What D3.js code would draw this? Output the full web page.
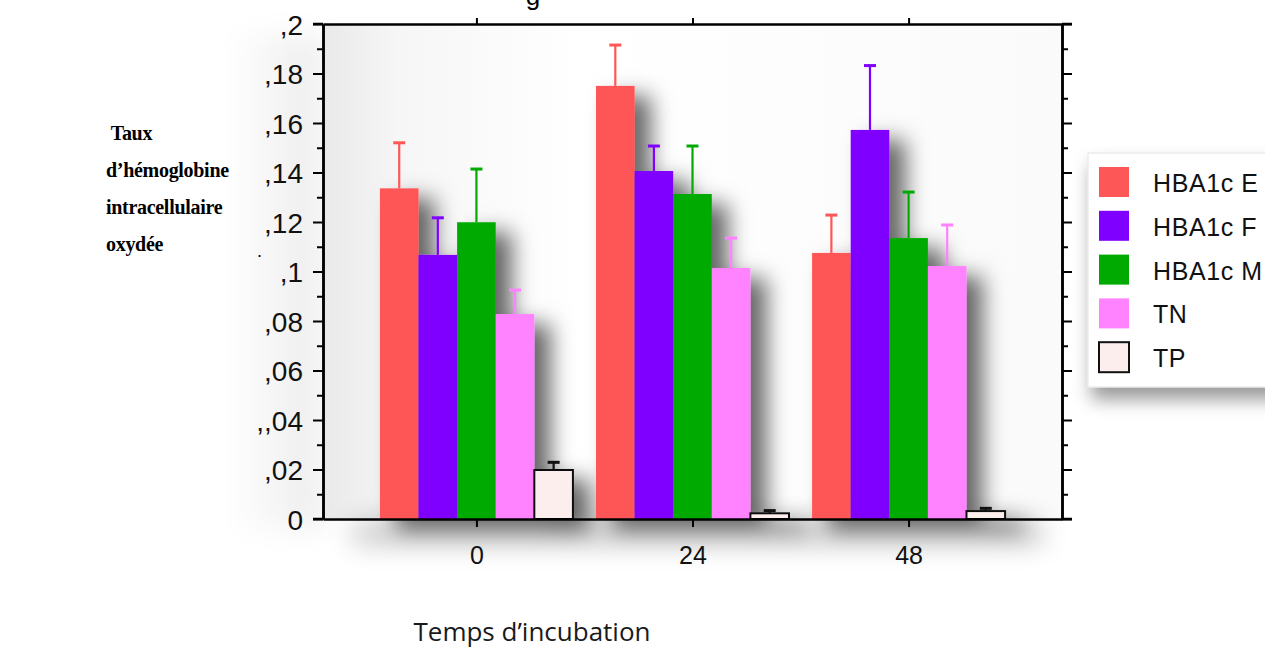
<html>

<head>
    <meta charset="utf-8">
    <title>Hémoglobine oxydée</title>
    <style>
        body {
            margin: 0;
            background: #fff;
        }
    </style>
</head>

<body>
    <script src="https://d3js.org/d3.v7.min.js"></script>
    <script>
        var width = 1265,
            height = 649;

        var times = ["0", "24", "48"];
        var series = ["HBA1c E", "HBA1c F", "HBA1c M", "TN", "TP"];
        var colors = ["#fe5757", "#8000ff", "#00aa00", "#ff82ff", "#fdeeee"];
        var hbaE = [0.1336, 0.175, 0.1075];
        var hbaE_err = [0.0184, 0.0165, 0.0153];
        var hbaF = [0.1067, 0.1406, 0.1572];
        var hbaF_err = [0.015, 0.0101, 0.026];
        var hbaM = [0.1199, 0.1313, 0.1135];
        var hbaM_err = [0.0215, 0.0194, 0.0186];
        var tn = [0.0828, 0.1014, 0.1022];
        var tn_err = [0.0097, 0.0121, 0.0166];
        var tp = [0.0198, 0.0023, 0.0032];
        var tp_err = [0.0031, 0.0011, 0.0011];
        var yTicks = [0, 0.02, 0.04, 0.06, 0.08, 0.1, 0.12, 0.14, 0.16, 0.18, 0.2];
        var yTickLabels = ["0", ",02", ",,04", ",06", ",08", ",1", ",12", ",14", ",16", ",18", ",2"];
        var yMinor = [0.01, 0.03, 0.05, 0.07, 0.09, 0.11, 0.13, 0.15, 0.17, 0.19];

        var values = [hbaE, hbaF, hbaM, tn, tp];
        var errors = [hbaE_err, hbaF_err, hbaM_err, tn_err, tp_err];
        var bars = [];
        series.forEach((s, i) => {
            times.forEach((t, j) => {
                bars.push({ serie: s, time: t, value: values[i][j], err: errors[i][j], color: colors[i] });
            });
        });

        var pLeft = 323, pRight = 1062, pTop = 24, pBottom = 519;

        var x = d3.scalePoint().domain(times).range([pLeft, pRight]).padding(0.71);
        var xs = d3.scaleBand().domain(series).range([-96.5, 96.5]);
        var y = d3.scaleLinear().domain([0, 0.2]).range([pBottom, pTop]);

        var svg = d3.select("body").append("svg")
            .attr("width", width)
            .attr("height", height);

        var defs = svg.append("defs");
        var grad = defs.append("linearGradient").attr("id", "bg");
        grad.append("stop").attr("offset", "0%").attr("stop-color", "#e9e9e9");
        grad.append("stop").attr("offset", "10%").attr("stop-color", "#f6f6f6");
        grad.append("stop").attr("offset", "35%").attr("stop-color", "#ffffff");
        grad.append("stop").attr("offset", "100%").attr("stop-color", "#fafafa");

        var outer = defs.append("linearGradient").attr("id", "outer");
        outer.append("stop").attr("offset", "0%").attr("stop-color", "#ffffff");
        outer.append("stop").attr("offset", "100%").attr("stop-color", "#ececec");

        defs.append("filter").attr("id", "shadow")
            .attr("x", "-20%").attr("y", "-20%").attr("width", "170%").attr("height", "170%")
            .append("feDropShadow")
            .attr("dx", 16).attr("dy", 10)
            .attr("stdDeviation", 11)
            .attr("flood-color", "#000")
            .attr("flood-opacity", 0.6);

        defs.append("filter").attr("id", "soft")
            .attr("x", "-20%").attr("y", "-50%").attr("width", "140%").attr("height", "400%")
            .append("feDropShadow")
            .attr("dx", 4).attr("dy", 12)
            .attr("stdDeviation", 9)
            .attr("flood-color", "#000")
            .attr("flood-opacity", 0.4);

        defs.append("filter").attr("id", "blur")
            .attr("filterUnits", "userSpaceOnUse")
            .attr("x", 0).attr("y", 0).attr("width", width).attr("height", height)
            .append("feGaussianBlur")
            .attr("stdDeviation", 14);

        // halo gris à gauche des graduations
        svg.append("rect")
            .attr("x", 225).attr("y", pTop + 10)
            .attr("width", pLeft - 225).attr("height", pBottom - pTop)
            .attr("fill", "url(#outer)")
            .attr("filter", "url(#blur)");

        // fond de la zone de tracé
        svg.append("rect")
            .attr("x", pLeft).attr("y", pTop)
            .attr("width", pRight - pLeft).attr("height", pBottom - pTop)
            .attr("fill", "url(#bg)");

        // ombre sous l'axe x
        svg.append("rect")
            .attr("x", pLeft + 30).attr("y", pBottom + 4)
            .attr("width", pRight - pLeft - 50).attr("height", 20)
            .attr("fill", "#000")
            .attr("opacity", 0.25)
            .attr("filter", "url(#blur)");

        var barG = svg.append("g").attr("filter", "url(#shadow)");

        barG.selectAll("rect")
            .data(bars)
            .join("rect")
            .attr("x", d => x(d.time) + xs(d.serie))
            .attr("y", d => y(d.value))
            .attr("width", xs.bandwidth())
            .attr("height", d => y(0) - y(d.value))
            .attr("fill", d => d.color)
            .attr("stroke", d => d.serie == "TP" ? "#111" : "none")
            .attr("stroke-width", 2);

        var errG = svg.append("g").attr("stroke-width", 2.2);
        var eb = errG.selectAll("g")
            .data(bars)
            .join("g")
            .attr("stroke", d => d.serie == "TP" ? "#111" : d.color);
        eb.append("line")
            .attr("x1", d => x(d.time) + xs(d.serie) + xs.bandwidth() / 2)
            .attr("x2", d => x(d.time) + xs(d.serie) + xs.bandwidth() / 2)
            .attr("y1", d => y(d.value))
            .attr("y2", d => y(d.value + d.err));
        eb.append("line")
            .attr("x1", d => x(d.time) + xs(d.serie) + xs.bandwidth() / 2 - 6)
            .attr("x2", d => x(d.time) + xs(d.serie) + xs.bandwidth() / 2 + 6)
            .attr("y1", d => y(d.value + d.err))
            .attr("y2", d => y(d.value + d.err))
            .attr("stroke-width", 3);

        // axes
        svg.append("g")
            .attr("class", "yaxis")
            .attr("transform", `translate(${pLeft},0)`)
            .call(d3.axisLeft(y).tickValues(yTicks).tickSize(10).tickPadding(10)
                .tickFormat((d, i) => yTickLabels[i]).tickSizeOuter(0));
        svg.append("g")
            .attr("transform", `translate(${pLeft},0)`)
            .call(d3.axisLeft(y).tickValues(yMinor).tickSize(6).tickFormat("").tickSizeOuter(0));

        svg.append("g")
            .attr("transform", `translate(${pRight},0)`)
            .call(d3.axisRight(y).tickValues(yTicks).tickSize(10).tickFormat("").tickSizeOuter(0));
        svg.append("g")
            .attr("transform", `translate(${pRight},0)`)
            .call(d3.axisRight(y).tickValues(yMinor).tickSize(6).tickFormat("").tickSizeOuter(0));

        svg.append("g")
            .attr("class", "xaxis")
            .attr("transform", `translate(0,${pBottom})`)
            .call(d3.axisBottom(x).tickSize(8).tickPadding(19).tickSizeOuter(0));

        svg.append("g")
            .attr("transform", `translate(0,${pTop})`)
            .call(d3.axisTop(x).tickSize(6).tickFormat("").tickSizeOuter(0));

        svg.selectAll("path.domain").attr("stroke", "#000").attr("stroke-width", 2.5);
        svg.selectAll(".tick line").attr("stroke", "#000").attr("stroke-width", 2);

        // prolongement des axes comme dans l'original
        svg.append("g").attr("stroke", "#000").attr("stroke-width", 2.5)
            .selectAll("line")
            .data([[pLeft - 10, pBottom, pLeft, pBottom], [pRight, pBottom, pRight + 10, pBottom],
                   [pLeft - 10, pTop, pLeft, pTop], [pRight, pTop, pRight + 10, pTop]])
            .join("line")
            .attr("x1", d => d[0]).attr("y1", d => d[1])
            .attr("x2", d => d[2]).attr("y2", d => d[3]);

        svg.selectAll(".tick text")
            .attr("font-family", "'Liberation Sans', Arial, sans-serif")
            .attr("fill", "#111");
        svg.selectAll(".yaxis .tick text")
            .attr("font-size", 28)
            .attr("dy", "0.36em");
        svg.selectAll(".xaxis .tick text").attr("font-size", 25);

        // bout de titre coupé
        svg.append("text")
            .attr("x", 533).attr("y", 5)
            .attr("font-family", "'Liberation Sans', Arial, sans-serif")
            .attr("font-size", 26)
            .attr("text-anchor", "middle")
            .text("g");

        svg.append("text")
            .attr("x", 257).attr("y", 257)
            .attr("font-family", "'Liberation Sans', Arial, sans-serif")
            .attr("font-size", 18)
            .text(".");

        // titre de l'axe y
        var yTitle = ["\u00a0Taux", "d\u2019hémoglobine", "intracellulaire", "oxydée"];
        svg.append("g")
            .attr("font-family", "'Liberation Serif', 'Times New Roman', serif")
            .attr("font-weight", "bold")
            .attr("font-size", 20)
            .attr("letter-spacing", -0.3)
            .selectAll("text")
            .data(yTitle)
            .join("text")
            .attr("x", 106)
            .attr("y", (d, i) => 140 + i * 37)
            .text(d => d);

        svg.append("text")
            .attr("x", 532).attr("y", 641)
            .attr("text-anchor", "middle")
            .attr("font-family", "'Open Sans', sans-serif")
            .attr("font-size", 26)
            .attr("fill", "#1a1a1a")
            .text("Temps d\u2019incubation");

        // légende
        var legend = svg.append("g");
        legend.append("rect")
            .attr("x", 1088).attr("y", 153)
            .attr("width", 200).attr("height", 234)
            .attr("fill", "#fff")
            .attr("stroke", "#e4e4e4")
            .attr("filter", "url(#soft)");
        var item = legend.selectAll("g")
            .data(series)
            .join("g")
            .attr("transform", (d, i) => `translate(1099,${167 + i * 43.8})`);
        item.append("rect")
            .attr("width", 30).attr("height", 30)
            .attr("fill", (d, i) => colors[i])
            .attr("stroke", d => d == "TP" ? "#111" : "none")
            .attr("stroke-width", 2);
        item.append("text")
            .attr("x", 54).attr("y", 25)
            .attr("font-family", "'Liberation Sans', Arial, sans-serif")
            .attr("font-size", 25)
            .attr("letter-spacing", 0.6)
            .attr("fill", "#111")
            .text(d => d);
    </script>
</body>

</html>
